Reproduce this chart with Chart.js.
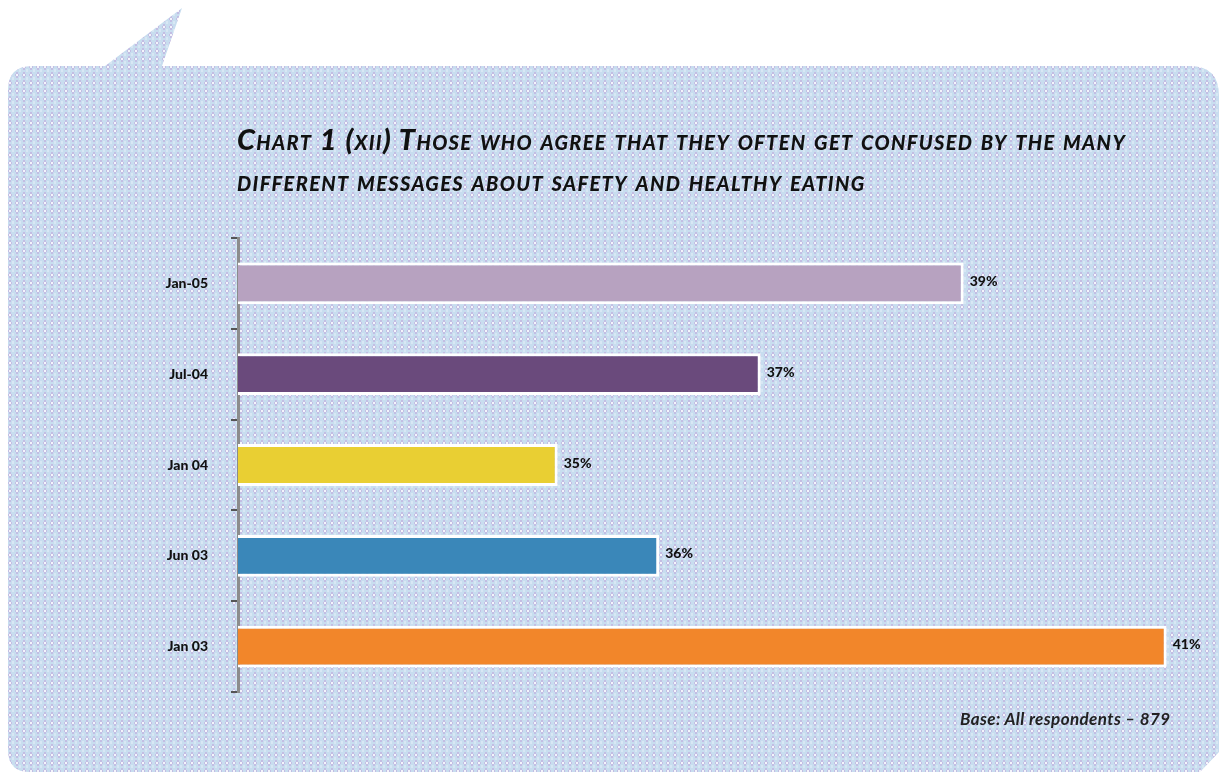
<!DOCTYPE html>
<html>
<head>
<meta charset="utf-8">
<script src="https://cdn.jsdelivr.net/npm/chart.js@4.4.1/dist/chart.umd.min.js"></script>
<style>
  html, body { margin: 0; padding: 0; background: #fff; }
  #wrap { position: relative; width: 1219px; height: 772px; overflow: hidden; }
  #chart { position: absolute; left: 0; top: 0; }
  .title {
    position: absolute; left: 237px; top: 118px; width: 980px;
    font-family: Lato, "Open Sans", sans-serif; font-weight: 900; font-style: italic;
    font-variant: small-caps; font-size: 29px; line-height: 41px; color: #111;
    letter-spacing: 1.35px; white-space: nowrap;
  }
  .base {
    position: absolute; left: 960px; top: 708px; white-space: nowrap;
    font-family: Lato, sans-serif; font-style: italic; font-weight: 700;
    font-size: 17px; color: #222; letter-spacing: 0.4px;
  }
</style>
</head>
<body>
<div id="wrap">
  <canvas id="chart" width="1219" height="772"></canvas>
  <div class="title">Chart 1 (xii) Those who agree that they often get confused by the many<br>different messages about safety and healthy eating</div>
  <div class="base">Base: All respondents – 879</div>
</div>
<script>
// Survey waves, top to bottom
const waves = ['Jan-05', 'Jul-04', 'Jan 04', 'Jun 03', 'Jan 03'];
// Share agreeing (%)
const agreePct = [39, 37, 35, 36, 41];
const barColours = ['#b7a2c0', '#6a4a7c', '#e9cf33', '#3a87b9', '#f2862a'];

// dotted fill used for the speech bubble
function makeDotPattern(ctx) {
    const tile = document.createElement('canvas');
    tile.width = 7; tile.height = 8;
    const t = tile.getContext('2d');
    t.fillStyle = '#c8ddef';
    t.fillRect(0, 0, 7, 8);
    t.fillStyle = '#c3bde3';
    t.fillRect(2, 0, 2, 6);
    t.fillRect(1, 2, 4, 2);
    t.fillStyle = '#f3f5fb';
    t.fillRect(2, 2, 2, 2);
    t.fillStyle = '#d8e7f4';
    t.fillRect(5, 5, 2, 3);
    return ctx.createPattern(tile, 'repeat');
}

const bubblePlugin = {
    id: 'bubble',
    beforeDraw(chart) {
        const ctx = chart.ctx;
        ctx.save();
        ctx.beginPath();
        ctx.moveTo(8, 90);
        ctx.quadraticCurveTo(8, 66, 32, 66);
        ctx.lineTo(105, 66);
        ctx.lineTo(182, 8);
        ctx.lineTo(162, 66);
        ctx.lineTo(1190, 66);
        ctx.quadraticCurveTo(1219, 66, 1219, 96);
        ctx.lineTo(1219, 752);
        ctx.lineTo(1200, 772);
        ctx.lineTo(30, 772);
        ctx.quadraticCurveTo(8, 772, 8, 750);
        ctx.closePath();
        ctx.fillStyle = makeDotPattern(ctx);
        ctx.fill();
        ctx.restore();
    }
};

// percentage label at the end of each bar
const valueLabels = {
    id: 'valueLabels',
    afterDatasetsDraw(chart) {
        const ctx = chart.ctx;
        const meta = chart.getDatasetMeta(0);
        ctx.save();
        ctx.font = '900 14px Lato, sans-serif';
        ctx.fillStyle = '#111';
        ctx.textBaseline = 'middle';
        meta.data.forEach((bar, i) => {
            ctx.fillText(agreePct[i] + '%', bar.x + 6, bar.y - 2);
        });
        ctx.restore();
    }
};

const ctx = document.getElementById('chart').getContext('2d');
new Chart(ctx, {
    type: 'bar',
    data: {
        labels: waves,
        datasets: [{
            data: agreePct,
            backgroundColor: barColours,
            borderColor: '#ffffff',
            borderWidth: 3,
            borderSkipped: 'start',
            categoryPercentage: 1,
            barPercentage: 0.46
        }]
    },
    options: {
        responsive: false,
        animation: false,
        indexAxis: 'y',
        layout: { padding: { top: 238, bottom: 80, left: 0, right: 32 } },
        plugins: { legend: { display: false }, tooltip: { enabled: false } },
        scales: {
            x: { display: false, min: 31.85, max: 41.2 },
            y: {
                afterFit(scale) { scale.width = 238; },
                border: { display: true, color: '#8c8c8c', width: 3 },
                grid: {
                    offset: true,
                    drawOnChartArea: false,
                    drawTicks: true,
                    tickLength: 7,
                    color: '#555',
                    lineWidth: 2
                },
                ticks: {
                    padding: 23,
                    color: '#111',
                    font: { family: 'Lato, sans-serif', weight: '900', size: 14 }
                }
            }
        }
    },
    plugins: [bubblePlugin, valueLabels]
});
</script>
</body>
</html>
